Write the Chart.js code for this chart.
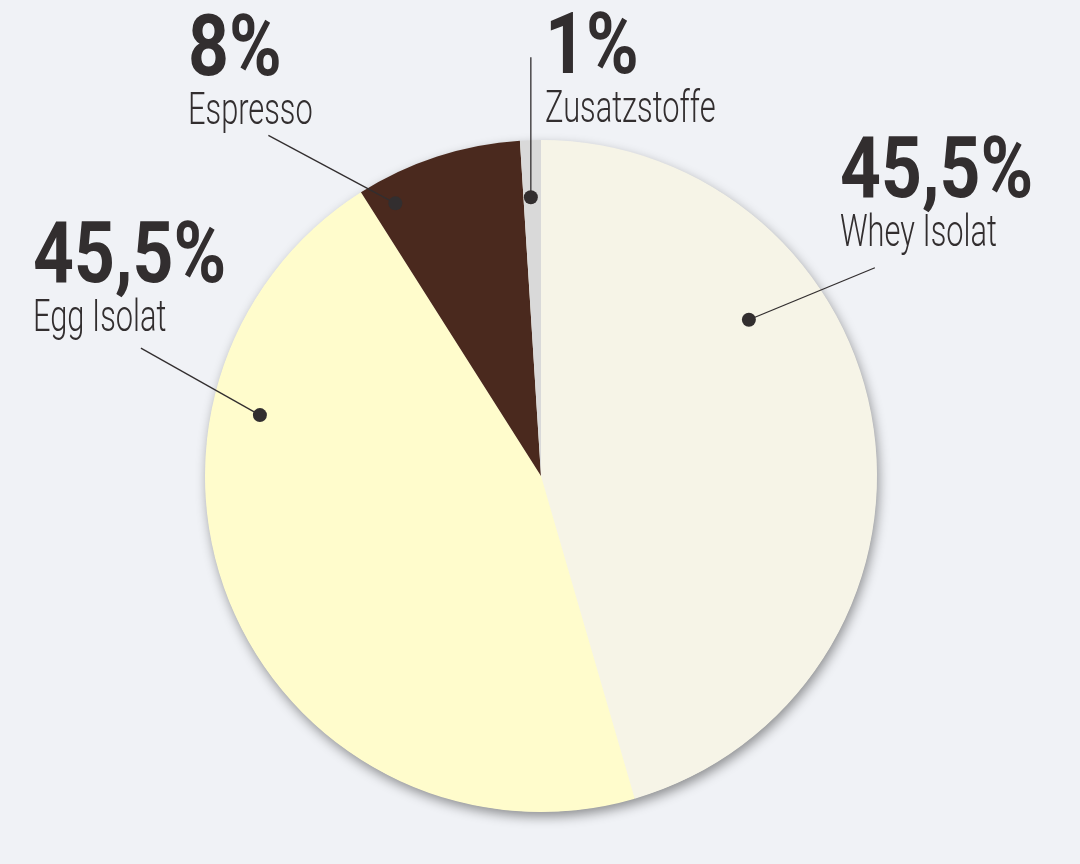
<!DOCTYPE html>
<html>
<head>
<meta charset="utf-8">
<script src="https://cdn.jsdelivr.net/npm/chart.js@4"></script>
<style>
  html, body { margin: 0; padding: 0; background: #f0f2f6; }
  #wrap { width: 1080px; height: 864px; }
</style>
</head>
<body>
<div id="wrap"><canvas id="myChart" width="1080" height="864"></canvas></div>
<script>
// data
const labels = ["Whey Isolat", "Egg Isolat", "Espresso", "Zusatzstoffe"];
const shares = [45.5, 45.5, 8, 1];
const shareText = ["45,5%", "45,5%", "8%", "1%"];
const sliceColors = ["#f6f4e7", "#fffccc", "#4a291e", "#d9d9d9"];

const inkColor = "#322e2f";
const fontFamily = 'Roboto, "DejaVu Sans Condensed", sans-serif';
// no condensed face installed, so squeeze the text horizontally
const boldSqueeze = 0.84;
const lightSqueeze = 0.7;

// where each callout sits: dot along the slice (t = fraction of slice angle,
// r = fraction of radius), line end relative to the dot, text relative to pie centre
const callouts = [
  { t: 0.324, r: 0.774, lx: 126, ly: -52, tx: 299, ty: -279 },
  { t: 0.723, r: 0.856, lx: -119, ly: -67, tx: -508, ty: -194 },
  { t: 0.149, r: 0.92, lx: -127, ly: -68, tx: -353, ty: -401 },
  { t: 0.42, r: 0.83, lx: 0, ly: -140, tx: 4, ty: -403 },
];

// soft shadow behind the whole pie
const pieShadow = {
  id: "pieShadow",
  beforeDatasetsDraw(chart) {
    const arc = chart.getDatasetMeta(0).data[0];
    if (!arc) return;
    const ctx = chart.ctx;
    ctx.save();
    ctx.shadowColor = "rgba(0,0,0,0.42)";
    ctx.shadowBlur = 12;
    ctx.shadowOffsetX = 2;
    ctx.shadowOffsetY = 5;
    ctx.fillStyle = sliceColors[0];
    ctx.beginPath();
    ctx.arc(arc.x, arc.y, arc.outerRadius - 0.5, 0, Math.PI * 2);
    ctx.fill();
    ctx.restore();
  },
};

function squeezedText(ctx, text, x, y, font, sx) {
  ctx.save();
  ctx.font = font;
  ctx.translate(x, y);
  ctx.scale(sx, 1);
  ctx.fillText(text, 0, 0);
  ctx.restore();
}

// dots, leader lines and labels
const calloutPlugin = {
  id: "callouts",
  afterDatasetsDraw(chart) {
    const ctx = chart.ctx;
    const arcs = chart.getDatasetMeta(0).data;
    arcs.forEach((arc, i) => {
      const c = callouts[i];
      const a = arc.startAngle + c.t * (arc.endAngle - arc.startAngle);
      const px = arc.x + Math.cos(a) * arc.outerRadius * c.r;
      const py = arc.y + Math.sin(a) * arc.outerRadius * c.r;

      ctx.save();
      ctx.strokeStyle = inkColor;
      ctx.lineWidth = 1.3;
      ctx.beginPath();
      ctx.moveTo(px, py);
      ctx.lineTo(px + c.lx, py + c.ly);
      ctx.stroke();

      ctx.fillStyle = inkColor;
      ctx.beginPath();
      ctx.arc(px, py, 7, 0, Math.PI * 2);
      ctx.fill();

      const tx = arc.x + c.tx;
      const ty = arc.y + c.ty;
      ctx.textAlign = "left";
      ctx.textBaseline = "alphabetic";
      squeezedText(ctx, shareText[i], tx, ty, "bold 85px " + fontFamily, boldSqueeze);
      squeezedText(ctx, labels[i], tx, ty + 49, "300 44px " + fontFamily, lightSqueeze);
      ctx.restore();
    });
  },
};

new Chart("myChart", {
  type: "pie",
  data: {
    labels: labels,
    datasets: [
      {
        data: shares,
        backgroundColor: sliceColors,
        borderWidth: 0,
      },
    ],
  },
  options: {
    responsive: false,
    animation: false,
    layout: { padding: { left: 205, right: 203, top: 140, bottom: 52 } },
    plugins: {
      legend: { display: false },
      tooltip: { enabled: false },
    },
  },
  plugins: [pieShadow, calloutPlugin],
});
</script>
</body>
</html>
